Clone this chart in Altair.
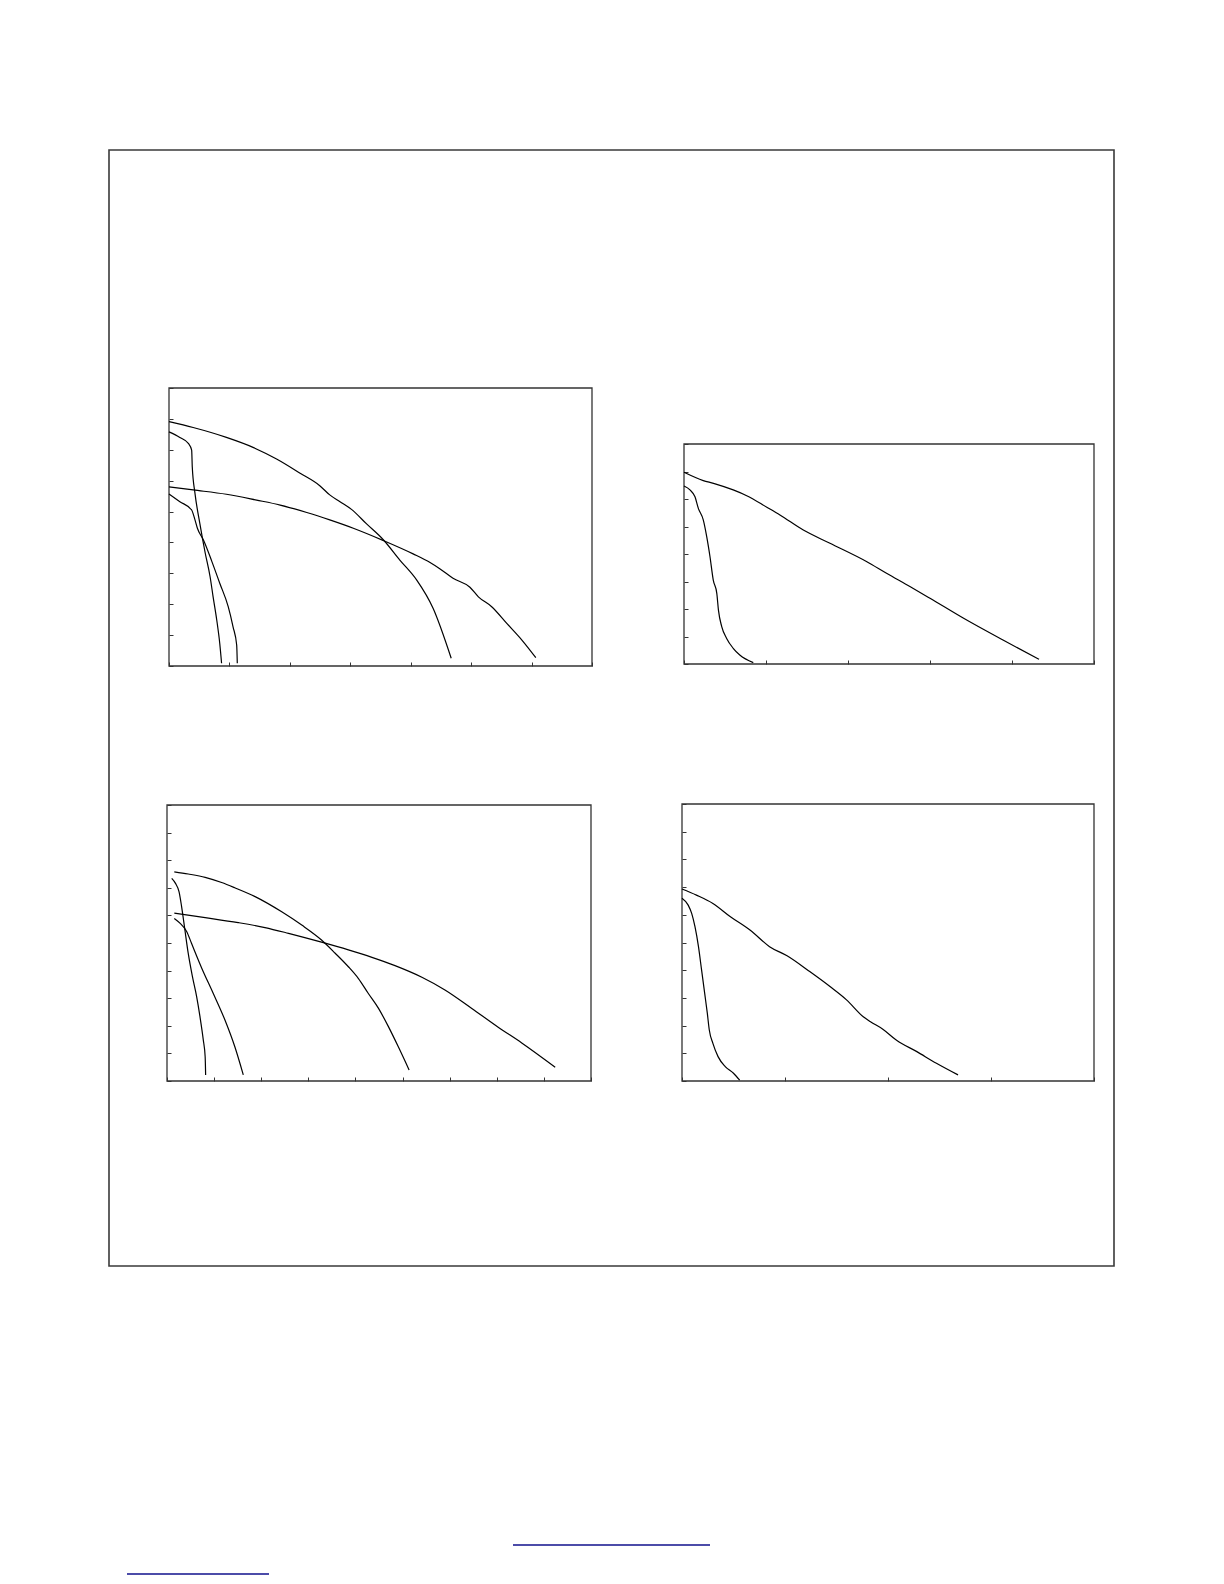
import altair as alt
import pandas as pd

# ---------------- data ----------------
# Panel 1 (top left): x 0..7, y 0..9
p1_xticks = [0, 1, 2, 3, 4, 5, 6, 7]
p1_yticks = [0, 1, 2, 3, 4, 5, 6, 7, 8, 9]
p1_a_x = [0.0, 0.40, 0.95, 1.40, 1.78, 2.17, 2.50, 2.66, 2.83, 3.02, 3.27, 3.55, 3.82, 4.10, 4.37, 4.67]
p1_a_y = [7.91, 7.72, 7.40, 7.07, 6.70, 6.24, 5.83, 5.54, 5.32, 5.07, 4.60, 4.08, 3.43, 2.78, 1.87, 0.25]
p1_b_x = [0.0, 0.40, 0.95, 1.45, 1.84, 2.28, 2.66, 3.05, 3.55, 4.04, 4.32, 4.48, 4.70, 4.98, 5.12, 5.34, 5.59, 5.84, 6.07]
p1_b_y = [5.80, 5.70, 5.56, 5.37, 5.21, 4.97, 4.73, 4.46, 4.06, 3.63, 3.35, 3.15, 2.84, 2.55, 2.24, 1.92, 1.38, 0.84, 0.27]
p1_c_x = [0.0, 0.18, 0.32, 0.375, 0.385, 0.43, 0.51, 0.60, 0.68, 0.73, 0.79, 0.84, 0.87]
p1_c_y = [7.58, 7.40, 7.21, 6.99, 6.45, 5.59, 4.62, 3.65, 2.89, 2.24, 1.49, 0.73, 0.09]
p1_d_x = [0.0, 0.18, 0.375, 0.43, 0.47, 0.57, 0.71, 0.84, 0.98, 1.06, 1.12, 1.13]
p1_d_y = [5.57, 5.32, 5.05, 4.73, 4.46, 4.08, 3.38, 2.68, 1.92, 1.27, 0.68, 0.09]

# Panel 2 (top right): x 0..5, y 0..8
p2_xticks = [0, 1, 2, 3, 4, 5]
p2_yticks = [0, 1, 2, 3, 4, 5, 6, 7, 8]
p2_e_x = [0.0, 0.235, 0.36, 0.60, 0.765, 1.01, 1.17, 1.455, 1.78, 2.23, 2.47, 2.76, 3.0, 3.41, 3.89, 4.33]
p2_e_y = [6.97, 6.67, 6.57, 6.33, 6.12, 5.70, 5.42, 4.87, 4.39, 3.72, 3.30, 2.81, 2.39, 1.66, 0.87, 0.17]
p2_f_x = [0.0, 0.073, 0.134, 0.175, 0.235, 0.277, 0.317, 0.357, 0.40, 0.42, 0.46, 0.52, 0.60, 0.68, 0.845]
p2_f_y = [6.47, 6.33, 6.08, 5.66, 5.24, 4.63, 3.90, 3.05, 2.57, 1.96, 1.36, 0.93, 0.57, 0.33, 0.05]

# Panel 3 (bottom left): x 0..9, y 0..10
p3_xticks = [0, 1, 2, 3, 4, 5, 6, 7, 8, 9]
p3_yticks = [0, 1, 2, 3, 4, 5, 6, 7, 8, 9, 10]
p3_g_x = [0.155, 0.45, 0.81, 1.16, 1.44, 1.87, 2.435, 2.86, 3.28, 3.57, 3.85, 4.06, 4.27, 4.49, 4.70, 4.91, 5.14]
p3_g_y = [7.58, 7.50, 7.38, 7.19, 7.00, 6.68, 6.13, 5.65, 5.11, 4.63, 4.14, 3.72, 3.18, 2.63, 1.97, 1.24, 0.40]
p3_h_x = [0.155, 0.81, 1.51, 2.08, 2.58, 3.28, 3.85, 4.35, 4.84, 5.41, 5.90, 6.47, 7.03, 7.53, 8.24]
p3_h_y = [6.08, 5.92, 5.74, 5.56, 5.35, 5.03, 4.75, 4.48, 4.18, 3.76, 3.30, 2.63, 1.95, 1.38, 0.50]
p3_i_x = [0.10, 0.18, 0.255, 0.31, 0.38, 0.45, 0.54, 0.63, 0.70, 0.77, 0.81, 0.82]
p3_i_y = [7.34, 7.16, 6.86, 6.32, 5.47, 4.63, 3.78, 3.05, 2.33, 1.49, 0.88, 0.22]
p3_j_x = [0.155, 0.28, 0.42, 0.52, 0.74, 0.98, 1.23, 1.44, 1.62]
p3_j_y = [5.89, 5.71, 5.41, 4.99, 4.08, 3.18, 2.21, 1.24, 0.22]

# Panel 4 (bottom right): x 0..4, y 0..10
p4_xticks = [0, 1, 2, 3, 4]
p4_yticks = [0, 1, 2, 3, 4, 5, 6, 7, 8, 9, 10]
p4_k_x = [0.0, 0.14, 0.30, 0.47, 0.66, 0.85, 1.02, 1.24, 1.44, 1.60, 1.76, 1.83, 1.95, 2.08, 2.28, 2.47, 2.68]
p4_k_y = [6.93, 6.71, 6.41, 5.93, 5.45, 4.85, 4.52, 3.95, 3.40, 2.92, 2.32, 2.14, 1.87, 1.48, 1.06, 0.64, 0.22]
p4_l_x = [0.0, 0.06, 0.094, 0.126, 0.16, 0.19, 0.22, 0.246, 0.265, 0.30, 0.35, 0.42, 0.50, 0.56]
p4_l_y = [6.60, 6.35, 6.05, 5.57, 4.85, 4.01, 3.17, 2.44, 1.84, 1.36, 0.88, 0.52, 0.28, 0.03]

# ---------------- layout ----------------
VIEW_W, VIEW_H = 1005, 1116
FRAME = "#333333"
INK = "#000000"


def panel(series, xticks, yticks, xr, yr):
    rows = []
    for name, (xs, ys) in series.items():
        for i, (a, b) in enumerate(zip(xs, ys)):
            rows.append({"s": name, "i": i, "x": a, "y": b})
    df = pd.DataFrame(rows)
    xdom = [xticks[0], xticks[-1]]
    ydom = [yticks[0], yticks[-1]]
    xs = alt.Scale(domain=xdom, range=xr, nice=False, zero=False)
    ys = alt.Scale(domain=ydom, range=yr, nice=False, zero=False)
    common = dict(labels=False, domain=False, grid=False, ticks=True,
                  tickSize=4, tickColor=FRAME, tickWidth=1, title=None)
    xa = alt.Axis(orient="top", offset=-yr[0], values=xticks, **common)
    ya = alt.Axis(orient="right", offset=xr[0] - VIEW_W, values=yticks, **common)
    frame = alt.Chart(pd.DataFrame({"a": [0]})).mark_rect(
        fill="white", fillOpacity=0, stroke=FRAME, strokeWidth=1.3
    ).encode(
        x=alt.XDatum(xdom[0], type="quantitative", scale=xs, axis=xa),
        x2=alt.X2Datum(xdom[1]),
        y=alt.YDatum(ydom[0], type="quantitative", scale=ys, axis=ya),
        y2=alt.Y2Datum(ydom[1]),
    )
    lines = alt.Chart(df).mark_line(
        color=INK, strokeWidth=1.2, interpolate="monotone"
    ).encode(
        x=alt.X("x:Q", scale=xs, axis=xa),
        y=alt.Y("y:Q", scale=ys, axis=ya),
        detail="s:N",
        order="i:Q",
    )
    return alt.layer(frame, lines)


p1 = panel({"a": (p1_a_x, p1_a_y), "b": (p1_b_x, p1_b_y),
            "c": (p1_c_x, p1_c_y), "d": (p1_d_x, p1_d_y)},
           p1_xticks, p1_yticks, [60, 483], [516, 238])
p2 = panel({"e": (p2_e_x, p2_e_y), "f": (p2_f_x, p2_f_y)},
           p2_xticks, p2_yticks, [575, 985], [514, 294])
p3 = panel({"g": (p3_g_x, p3_g_y), "h": (p3_h_x, p3_h_y),
            "i": (p3_i_x, p3_i_y), "j": (p3_j_x, p3_j_y)},
           p3_xticks, p3_yticks, [58, 482], [931, 655])
p4 = panel({"k": (p4_k_x, p4_k_y), "l": (p4_l_x, p4_l_y)},
           p4_xticks, p4_yticks, [573, 985], [931, 654])

dummy = pd.DataFrame({"a": [0]})
LINK = "#10108c"
link1 = alt.Chart(dummy).mark_rule(color=LINK, strokeWidth=1.6).encode(
    x=alt.value(404), x2=alt.value(601), y=alt.value(1395))
link2 = alt.Chart(dummy).mark_rule(color=LINK, strokeWidth=1.6).encode(
    x=alt.value(18), x2=alt.value(160), y=alt.value(1424))

chart = alt.layer(p1, p2, p3, p4, link1, link2).resolve_scale(
    x="independent", y="independent"
).resolve_axis(
    x="independent", y="independent"
).properties(
    width=VIEW_W, height=VIEW_H,
    autosize=alt.AutoSizeParams(type="none"),
    padding={"left": 101, "top": 142, "right": 10, "bottom": 310},
).configure_view(stroke="#3a3a3a", strokeWidth=1.6)

chart.save("out.html", embed_options={"renderer": "svg", "actions": False})
